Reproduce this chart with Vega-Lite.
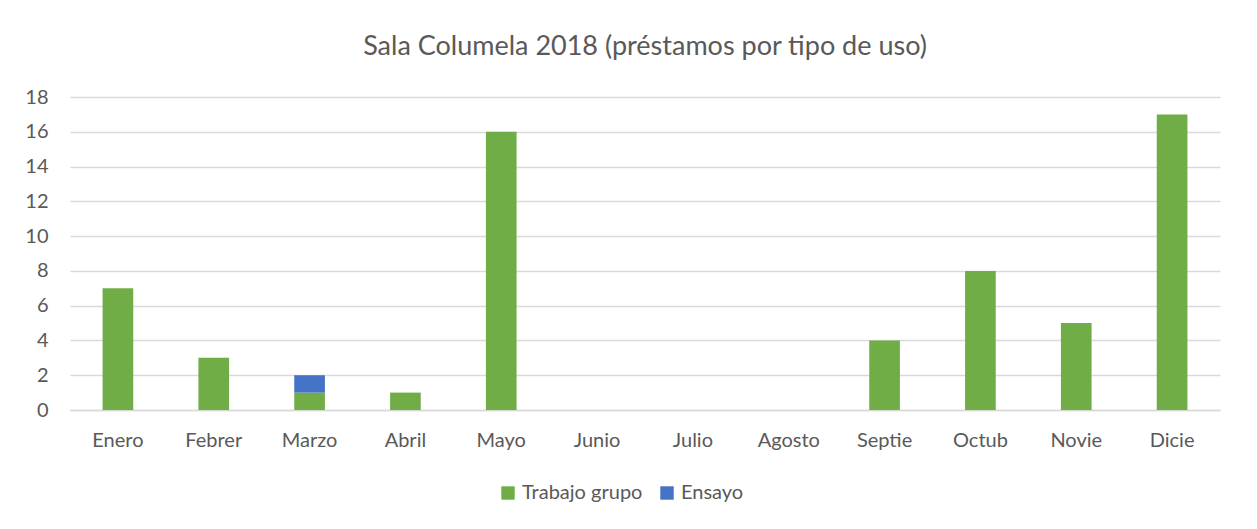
{
  "$schema": "https://vega.github.io/schema/vega-lite/v6.json",
  "width": 1150,
  "height": 313,
  "autosize": {"type": "none"},
  "padding": {"left": 70, "top": 97, "right": 37, "bottom": 119},
  "background": "white",
  "title": {
    "text": "Sala Columela 2018 (préstamos por tipo de uso)",
    "font": "Lato",
    "fontSize": 27,
    "fontWeight": "normal",
    "color": "#595959",
    "anchor": "middle",
    "offset": 26
  },
  "data": {
    "values": [
      {"mes": "Enero", "tipo": "Trabajo grupo", "valor": 7},
      {"mes": "Febrer", "tipo": "Trabajo grupo", "valor": 3},
      {"mes": "Marzo", "tipo": "Trabajo grupo", "valor": 1},
      {"mes": "Marzo", "tipo": "Ensayo", "valor": 1},
      {"mes": "Abril", "tipo": "Trabajo grupo", "valor": 1},
      {"mes": "Mayo", "tipo": "Trabajo grupo", "valor": 16},
      {"mes": "Junio", "tipo": "Trabajo grupo", "valor": 0},
      {"mes": "Julio", "tipo": "Trabajo grupo", "valor": 0},
      {"mes": "Agosto", "tipo": "Trabajo grupo", "valor": 0},
      {"mes": "Septie", "tipo": "Trabajo grupo", "valor": 4},
      {"mes": "Octub", "tipo": "Trabajo grupo", "valor": 8},
      {"mes": "Novie", "tipo": "Trabajo grupo", "valor": 5},
      {"mes": "Dicie", "tipo": "Trabajo grupo", "valor": 17}
    ]
  },
  "mark": {"type": "bar", "strokeWidth": 0},
  "encoding": {
    "x": {
      "field": "mes",
      "type": "nominal",
      "sort": ["Enero", "Febrer", "Marzo", "Abril", "Mayo", "Junio", "Julio", "Agosto", "Septie", "Octub", "Novie", "Dicie"],
      "scale": {"paddingInner": 0.68, "paddingOuter": 0.34},
      "axis": {
        "title": null,
        "labelAngle": 0,
        "labelFont": "Lato",
        "labelFontSize": 20,
        "labelColor": "#595959",
        "labelPadding": 20,
        "ticks": false,
        "domainColor": "#d9d9d9",
        "domainWidth": 1.5
      }
    },
    "y": {
      "field": "valor",
      "type": "quantitative",
      "stack": "zero",
      "scale": {"domain": [0, 18]},
      "axis": {
        "title": null,
        "values": [0, 2, 4, 6, 8, 10, 12, 14, 16, 18],
        "labelFont": "Lato",
        "labelFontSize": 20,
        "labelColor": "#595959",
        "labelPadding": 22,
        "ticks": false,
        "domain": false,
        "gridColor": "#d9d9d9",
        "gridWidth": 1.5
      }
    },
    "color": {
      "field": "tipo",
      "type": "nominal",
      "sort": ["Trabajo grupo", "Ensayo"],
      "scale": {"domain": ["Trabajo grupo", "Ensayo"], "range": ["#70AD47", "#4472C4"]},
      "legend": {
        "title": null,
        "orient": "none",
        "legendX": 428,
        "legendY": 386,
        "direction": "horizontal",
        "symbolType": "square",
        "symbolSize": 180,
        "symbolStrokeWidth": 0,
        "labelFont": "Lato",
        "labelFontSize": 20,
        "labelColor": "#595959",
        "columnPadding": 14
      }
    },
    "order": {"field": "tipo", "sort": "descending"}
  },
  "config": {
    "view": {"stroke": null}
  }
}
